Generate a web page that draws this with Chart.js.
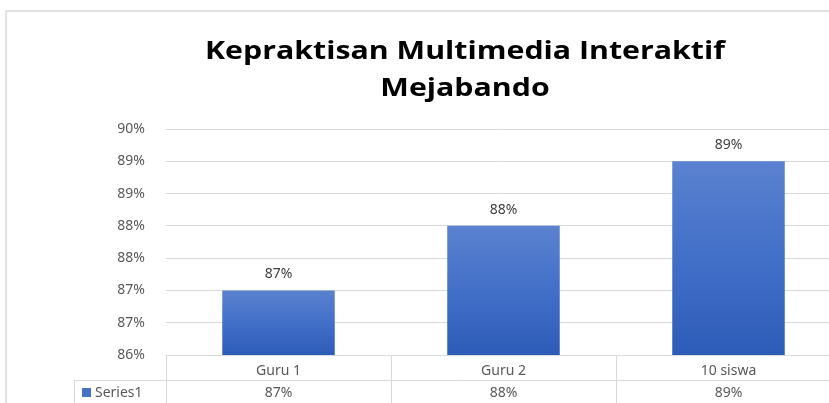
<!DOCTYPE html>
<html lang="id">
<head>
    <meta charset="UTF-8">
    <title>Kepraktisan Multimedia Interaktif Mejabando</title>
    <script src="https://cdn.jsdelivr.net/npm/chart.js"></script>
    <style>
        body { margin: 0; overflow: hidden; background: #fff; }
        #wrap { width: 850px; height: 403px; }
    </style>
</head>
<body>
    <div id="wrap"><canvas id="chart"></canvas></div>

    <script>
        const titleLines = ['Kepraktisan Multimedia Interaktif', 'Mejabando'];
        const categories = ['Guru 1', 'Guru 2', '10 siswa'];
        const seriesName = 'Series1';
        const values = [87, 88, 89];
        const yMin = 86, yMax = 89.5, yStep = 0.5;

        const lineColor = '#d9d9d9';
        const textColor = '#595959';
        const font = '"Noto Sans", sans-serif';

        // frame + title (excel draws it wide, so stretch it a bit)
        const framePlugin = {
            id: 'frame',
            beforeDraw(chart) {
                const c = chart.ctx;
                c.save();
                c.strokeStyle = lineColor;
                c.lineWidth = 1.5;
                c.strokeRect(6, 11, chart.width + 20, chart.height + 20);

                c.font = 'bold 25px "Open Sans", sans-serif';
                c.fillStyle = '#000';
                c.textAlign = 'center';
                c.textBaseline = 'alphabetic';
                const sx = 520 / c.measureText(titleLines[0]).width;
                titleLines.forEach((t, i) => {
                    c.save();
                    c.translate(465, 59 + i * 37);
                    c.scale(sx, 1);
                    c.fillText(t, 0, 0);
                    c.restore();
                });
                c.restore();
            }
        };

        // data labels and the data table under the axis
        const tablePlugin = {
            id: 'table',
            afterDatasetsDraw(chart) {
                const c = chart.ctx;
                const meta = chart.getDatasetMeta(0);
                c.save();
                c.font = '14px ' + font;
                c.fillStyle = '#404040';
                c.textAlign = 'center';
                c.textBaseline = 'alphabetic';
                meta.data.forEach((bar, i) => {
                    c.fillText(Math.round(values[i]) + '%', bar.x, bar.y - 12);
                });
                c.restore();
            },
            afterDraw(chart) {
                const c = chart.ctx;
                const x = chart.scales.x;
                const area = chart.chartArea;
                const rowTop = area.bottom + 25;
                const bottom = chart.height;
                const step = x.getPixelForValue(1) - x.getPixelForValue(0);
                c.save();
                c.strokeStyle = lineColor;
                c.lineWidth = 1;
                c.beginPath();
                for (let i = 0; i <= categories.length; i++) {
                    const px = Math.round(x.getPixelForValue(i) - step / 2) + 0.5;
                    c.moveTo(px, area.bottom);
                    c.lineTo(px, bottom);
                }
                c.moveTo(74.5, rowTop + 0.5);
                c.lineTo(chart.width, rowTop + 0.5);
                c.moveTo(74.5, rowTop);
                c.lineTo(74.5, bottom);
                c.stroke();

                c.fillStyle = '#4472c4';
                c.fillRect(82, rowTop + 8, 9, 9);
                c.font = '14px ' + font;
                c.fillStyle = textColor;
                c.textBaseline = 'middle';
                c.textAlign = 'left';
                c.fillText(seriesName, 95, rowTop + 13);
                c.textAlign = 'center';
                values.forEach((v, i) => {
                    c.fillText(Math.round(v) + '%', x.getPixelForValue(i), rowTop + 13);
                });
                c.restore();
            }
        };

        function barFill(ctx) {
            const chart = ctx.chart;
            if (!chart.chartArea || ctx.dataIndex === undefined) return '#4472c4';
            const y = chart.scales.y;
            const top = y.getPixelForValue(values[ctx.dataIndex]);
            const g = chart.ctx.createLinearGradient(0, top, 0, y.bottom);
            g.addColorStop(0, '#5b82d0');
            g.addColorStop(0.5, '#426fc8');
            g.addColorStop(1, '#2d5cb8');
            return g;
        }

        new Chart(document.getElementById('chart'), {
            type: 'bar',
            data: {
                labels: categories,
                datasets: [{
                    label: seriesName,
                    data: values,
                    backgroundColor: barFill,
                    categoryPercentage: 1,
                    barPercentage: 0.5
                }]
            },
            options: {
                responsive: true,
                maintainAspectRatio: false,
                animation: false,
                layout: { padding: { left: 87, right: 9, top: 129, bottom: 23 } },
                plugins: {
                    legend: { display: false },
                    tooltip: { enabled: false },
                    title: { display: false }
                },
                scales: {
                    x: {
                        grid: { display: false },
                        border: { color: lineColor },
                        ticks: { color: textColor, font: { family: font, size: 14 }, padding: 0 },
                        afterFit(scale) { scale.height = 25; }
                    },
                    y: {
                        min: yMin,
                        max: yMax,
                        grid: { color: lineColor, drawTicks: false },
                        border: { display: false },
                        ticks: {
                            stepSize: yStep,
                            padding: 21,
                            color: textColor,
                            font: { family: font, size: 14 },
                            callback: v => Math.round(v) + '%'
                        },
                        afterFit(scale) { scale.width = 79; }
                    }
                }
            },
            plugins: [framePlugin, tablePlugin]
        });
    </script>
</body>
</html>
